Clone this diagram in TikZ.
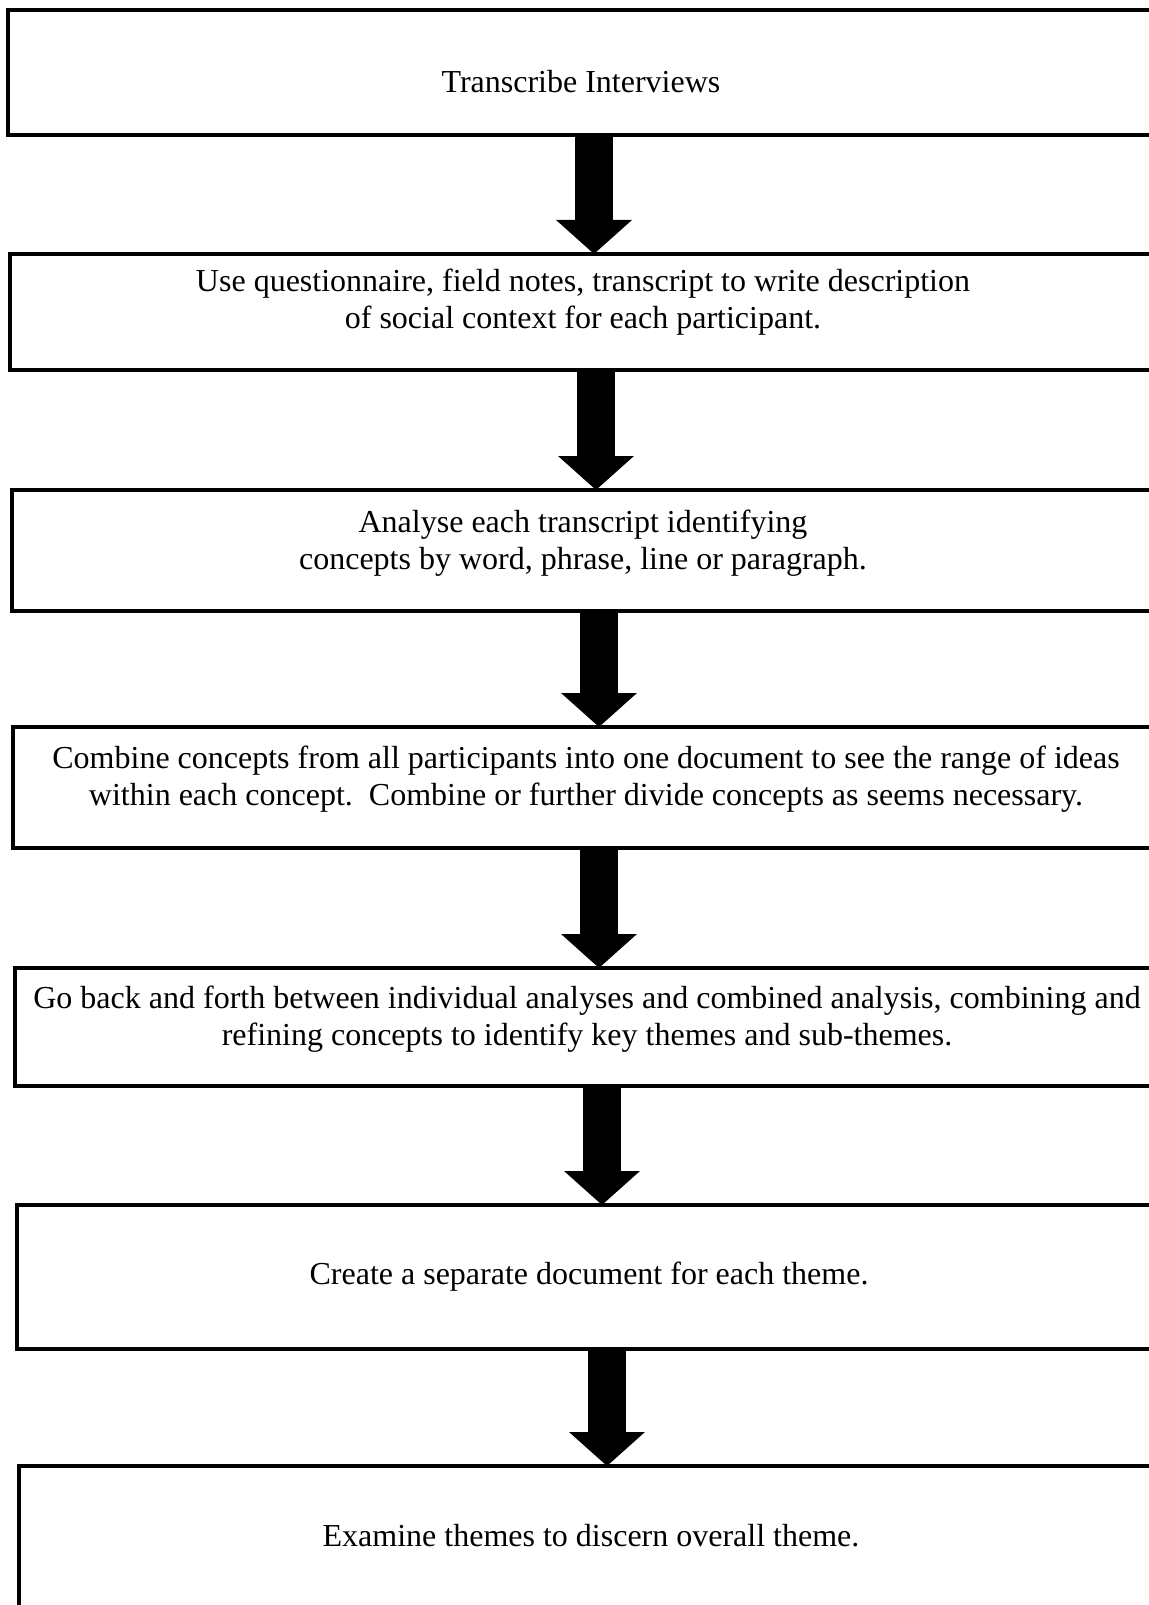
\documentclass[tikz,border=0pt]{standalone}
\usepackage{fontspec}
\setmainfont{Liberation Serif}
\usetikzlibrary{arrows.meta}

\tikzset{
  stepbox/.style={draw=black, line width=1.6pt, rectangle, inner sep=0pt, outer sep=0pt},
  steptext/.style={align=center, inner sep=0pt, font=\fontsize{16pt}{18.5pt}\selectfont},
  bigarrow/.style={line width=19pt, -{Triangle[width=37pt,length=17pt]}}
}

\begin{document}
\begin{tikzpicture}
            \useasboundingbox (0,0) rectangle (574pt,-802.5pt);
            % boxes
            \node [stepbox, minimum width=578pt, minimum height=62.5pt] (box1) at (293pt,-36.25pt) {};
            \node [stepbox, minimum width=577pt, minimum height=58pt] (box2) at (293.5pt,-156pt) {};
            \node [stepbox, minimum width=576pt, minimum height=60.5pt] (box3) at (294pt,-275.25pt) {};
            \node [stepbox, minimum width=575.5pt, minimum height=60.5pt] (box4) at (294.25pt,-393.75pt) {};
            \node [stepbox, minimum width=574.5pt, minimum height=59pt] (box5) at (294.75pt,-513.5pt) {};
            \node [stepbox, minimum width=573.5pt, minimum height=72pt] (box6) at (295.25pt,-638.5pt) {};
            \node [stepbox, minimum width=572.5pt, minimum height=77pt] (box7) at (295.75pt,-771.5pt) {};
            % texts
            \node [steptext] (t1) at (290.5pt,-41pt) {Transcribe Interviews};
            \node [steptext] (t2) at (291.5pt,-151pt) {Use questionnaire, field notes, transcript to write description\\of social context for each participant.};
            \node [steptext] (t3) at (291.5pt,-271.5pt) {Analyse each transcript identifying\\concepts by word, phrase, line or paragraph.};
            \node [steptext] (t4) at (293pt,-389.8pt) {Combine concepts from all participants into one document to see the range of ideas\\within each concept.\ \ Combine or further divide concepts as seems necessary.};
            \node [steptext] (t5) at (293.5pt,-509.5pt) {Go back and forth between individual analyses and combined analysis, combining and\\refining concepts to identify key themes and sub-themes.};
            \node [steptext] (t6) at (294.5pt,-638.5pt) {Create a separate document for each theme.};
            \node [steptext] (t7) at (295.5pt,-768pt) {Examine themes to discern overall theme.};
            % arrows
            \draw [bigarrow] ([xshift=4pt]box1.south) -- ([xshift=4pt]box1.south |- box2.north);
            \draw [bigarrow] ([xshift=4.5pt]box2.south) -- ([xshift=4.5pt]box2.south |- box3.north);
            \draw [bigarrow] ([xshift=5.5pt]box3.south) -- ([xshift=5.5pt]box3.south |- box4.north);
            \draw [bigarrow] ([xshift=5.25pt]box4.south) -- ([xshift=5.25pt]box4.south |- box5.north);
            \draw [bigarrow] ([xshift=6.25pt]box5.south) -- ([xshift=6.25pt]box5.south |- box6.north);
            \draw [bigarrow] ([xshift=8.25pt]box6.south) -- ([xshift=8.25pt]box6.south |- box7.north);
\end{tikzpicture}
\end{document}
